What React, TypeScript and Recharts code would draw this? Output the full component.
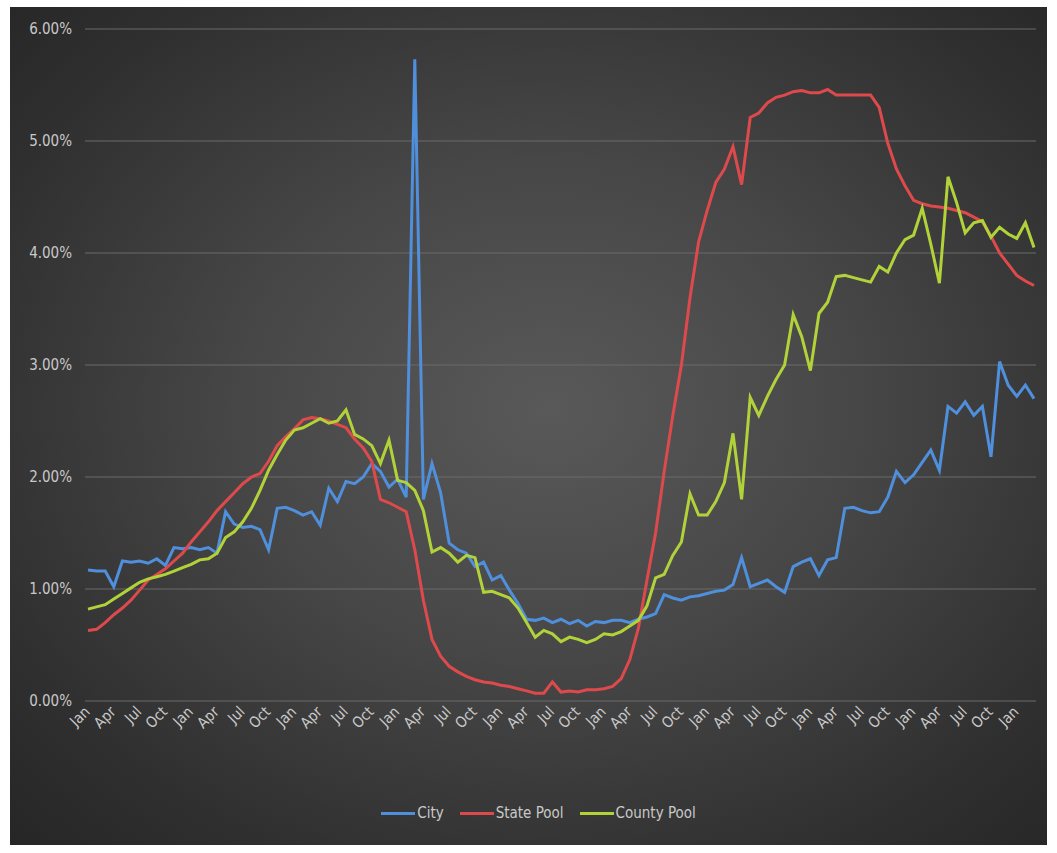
import React from 'react';
import { LineChart, Line, XAxis, YAxis, CartesianGrid, Legend } from 'recharts';

// month labels for the category axis (Jan of year 0 ... Mar of year 9)
const monthNames = ['Jan', 'Feb', 'Mar', 'Apr', 'May', 'Jun', 'Jul', 'Aug', 'Sep', 'Oct', 'Nov', 'Dec'];

// values in percent
const city = [
  1.17, 1.16, 1.16, 1.02, 1.25, 1.24, 1.25, 1.23, 1.27, 1.21,
  1.37, 1.36, 1.37, 1.35, 1.37, 1.32, 1.69, 1.58, 1.55, 1.56,
  1.53, 1.35, 1.72, 1.73, 1.70, 1.66, 1.69, 1.57, 1.90, 1.78,
  1.96, 1.94, 2.00, 2.12, 2.05, 1.91, 1.98, 1.82, 5.73, 1.80,
  2.12, 1.86, 1.41, 1.35, 1.32, 1.20, 1.24, 1.08, 1.12, 0.99,
  0.87, 0.73, 0.72, 0.74, 0.70, 0.73, 0.69, 0.72, 0.67, 0.71,
  0.70, 0.72, 0.72, 0.70, 0.73, 0.75, 0.78, 0.95, 0.92, 0.90,
  0.93, 0.94, 0.96, 0.98, 0.99, 1.04, 1.28, 1.02, 1.05, 1.08,
  1.02, 0.97, 1.20, 1.24, 1.27, 1.12, 1.26, 1.28, 1.72, 1.73,
  1.70, 1.68, 1.69, 1.82, 2.05, 1.95, 2.02, 2.13, 2.24, 2.06,
  2.63, 2.57, 2.67, 2.55, 2.63, 2.18, 3.03, 2.82, 2.72, 2.82, 2.70,
];

const statePool = [
  0.63, 0.64, 0.70, 0.77, 0.83, 0.90, 0.99, 1.08, 1.13, 1.18,
  1.25, 1.32, 1.42, 1.51, 1.60, 1.70, 1.78, 1.86, 1.94, 2.00,
  2.03, 2.14, 2.28, 2.36, 2.43, 2.51, 2.53, 2.52, 2.50, 2.47,
  2.44, 2.34, 2.26, 2.14, 1.80, 1.77, 1.73, 1.69, 1.35, 0.90,
  0.55, 0.40, 0.31, 0.26, 0.22, 0.19, 0.17, 0.16, 0.14, 0.13,
  0.11, 0.09, 0.07, 0.07, 0.17, 0.08, 0.09, 0.08, 0.10, 0.10,
  0.11, 0.13, 0.20, 0.37, 0.65, 1.08, 1.50, 2.05, 2.55, 3.00,
  3.60, 4.10, 4.38, 4.63, 4.75, 4.95, 4.61, 5.21, 5.25, 5.34,
  5.39, 5.41, 5.44, 5.45, 5.43, 5.43, 5.46, 5.41, 5.41, 5.41,
  5.41, 5.41, 5.30, 4.98, 4.75, 4.60, 4.47, 4.44, 4.42, 4.41,
  4.40, 4.38, 4.36, 4.32, 4.28, 4.15, 4.00, 3.90, 3.80, 3.75, 3.71,
];

const countyPool = [
  0.82, 0.84, 0.86, 0.91, 0.96, 1.01, 1.06, 1.09, 1.11, 1.13,
  1.16, 1.19, 1.22, 1.26, 1.27, 1.32, 1.46, 1.51, 1.60, 1.72,
  1.88, 2.06, 2.20, 2.33, 2.42, 2.44, 2.48, 2.52, 2.48, 2.50,
  2.60, 2.38, 2.34, 2.28, 2.12, 2.33, 1.97, 1.95, 1.88, 1.70,
  1.33, 1.37, 1.32, 1.24, 1.30, 1.28, 0.97, 0.98, 0.95, 0.92,
  0.83, 0.70, 0.57, 0.63, 0.60, 0.53, 0.57, 0.55, 0.52, 0.55,
  0.60, 0.59, 0.62, 0.67, 0.72, 0.85, 1.10, 1.13, 1.30, 1.42,
  1.85, 1.66, 1.66, 1.78, 1.95, 2.39, 1.80, 2.71, 2.55, 2.72,
  2.87, 3.00, 3.45, 3.25, 2.95, 3.46, 3.56, 3.79, 3.80, 3.78,
  3.76, 3.74, 3.88, 3.83, 4.00, 4.12, 4.16, 4.40, 4.08, 3.73,
  4.68, 4.45, 4.18, 4.27, 4.29, 4.14, 4.23, 4.17, 4.13, 4.27, 4.05,
];

const yTicks = [0, 1, 2, 3, 4, 5, 6];

const series = [
  { key: 'city', name: 'City', color: '#4f8fdc' },
  { key: 'state', name: 'State Pool', color: '#de4a4c' },
  { key: 'county', name: 'County Pool', color: '#b2d23a' },
];

const data = city.map((v, i) => ({
  month: monthNames[i % 12],
  city: v,
  state: statePool[i],
  county: countyPool[i],
}));

const FONT = "'Liberation Sans Narrow', 'DejaVu Sans Condensed', Roboto, sans-serif";
const TEXT = '#c9c9c9';

function MonthTick({ x, y, payload }: any) {
  return (
    <text
      x={x}
      y={y}
      transform={`rotate(-45, ${x}, ${y})`}
      textAnchor="end"
      dy={6}
      dx={-2}
      fill={TEXT}
      fontSize={15}
      fontFamily={FONT}
    >
      {payload.value}
    </text>
  );
}

function LegendBox() {
  return (
    <div style={{ display: 'flex', justifyContent: 'center', alignItems: 'center', fontFamily: FONT, fontSize: 15, color: TEXT }}>
      {series.map((s) => (
        <div key={s.key} style={{ display: 'flex', alignItems: 'center', margin: '0 8px' }}>
          <span style={{ display: 'inline-block', width: 34, height: 3, background: s.color, marginRight: 2 }} />
          <span>{s.name}</span>
        </div>
      ))}
    </div>
  );
}

export default function App() {
  return (
    <div
      style={{
        position: 'absolute',
        left: 10,
        top: 7,
        width: 1037,
        height: 838,
        background: 'radial-gradient(ellipse at 52% 48%, #595959 0%, #474747 40%, #2f2f2f 80%, #262626 100%)',
      }}
    >
      <LineChart width={1037} height={838} data={data} margin={{ top: 22, right: 11, left: 0, bottom: 94 }}>
        <CartesianGrid vertical={false} stroke="#6b6b6b" strokeWidth={1} />
        <XAxis
          dataKey="month"
          interval={2}
          height={50}
          axisLine={false}
          tickLine={false}
          tickMargin={0}
          padding={{ left: 3, right: 2 }}
          tick={<MonthTick />}
        />
        <YAxis
          width={75}
          domain={[0, 6]}
          ticks={yTicks}
          axisLine={false}
          tickLine={false}
          tickMargin={7}
          tickFormatter={(v: number) => `${v.toFixed(2)}%`}
          tick={{ fill: TEXT, fontSize: 15, fontFamily: FONT }}
        />
        {series.map((s) => (
          <Line
            key={s.key}
            type="linear"
            dataKey={s.key}
            name={s.name}
            stroke={s.color}
            strokeWidth={3}
            dot={false}
            isAnimationActive={false}
          />
        ))}
        <Legend
          layout="horizontal"
          verticalAlign="middle"
          align="center"
          wrapperStyle={{ top: 797, left: 10, width: 1037 }}
          content={<LegendBox />}
        />
      </LineChart>
    </div>
  );
}
